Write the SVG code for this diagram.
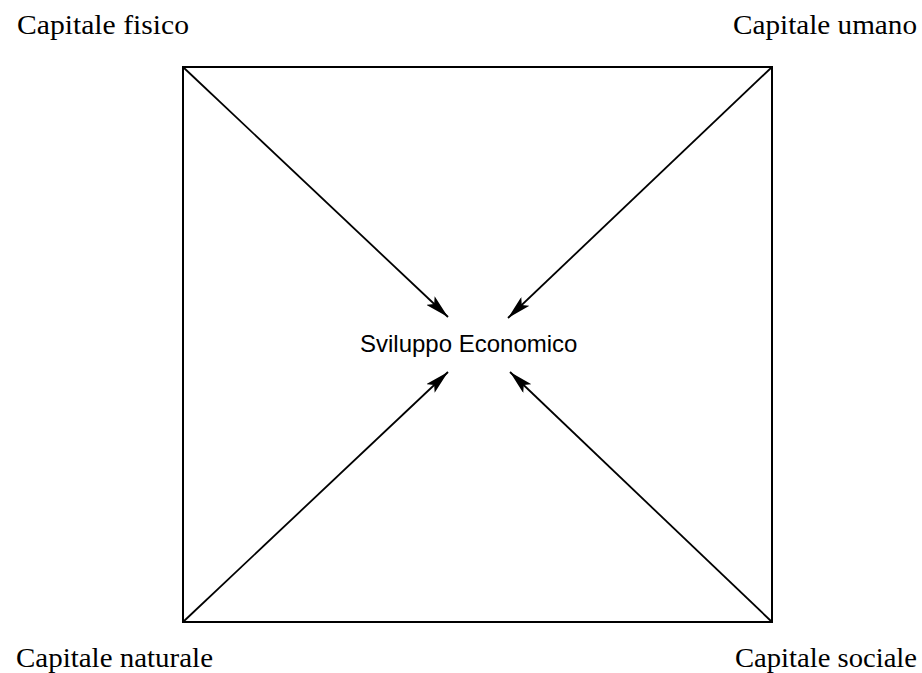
<svg xmlns="http://www.w3.org/2000/svg" width="922" height="673" viewBox="0 0 922 673">
<style>
.lbl{font-family:"Liberation Serif","Times New Roman",serif;font-size:27px;fill:#000}
.ctr{font-family:"Liberation Sans",Arial,sans-serif;font-size:24px;fill:#000}
.edge{stroke:#000;stroke-width:1.8;fill:none}
</style>
<defs>
<marker id="ah" viewBox="0 0 24 12" refX="24" refY="6" markerWidth="24" markerHeight="12" markerUnits="userSpaceOnUse" orient="auto">
<path d="M0,0 L24,6 L0,12 L5,6 Z" fill="#000"/>
</marker>
</defs>
<rect width="922" height="673" fill="#fff"/>
<g id="frame"><rect x="183" y="67" width="589" height="555" fill="none" stroke="#000" stroke-width="2"/></g>
<g id="n-fisico"><text class="lbl" x="17" y="34" textLength="172" lengthAdjust="spacingAndGlyphs">Capitale fisico</text></g>
<g id="n-umano"><text class="lbl" x="733" y="34" textLength="184" lengthAdjust="spacingAndGlyphs">Capitale umano</text></g>
<g id="n-naturale"><text class="lbl" x="16" y="667" textLength="197" lengthAdjust="spacingAndGlyphs">Capitale naturale</text></g>
<g id="n-sociale"><text class="lbl" x="735" y="667" textLength="182" lengthAdjust="spacingAndGlyphs">Capitale sociale</text></g>
<g id="n-centro"><text class="ctr" x="360" y="352">Sviluppo Economico</text></g>
<g id="connectors">
<line class="edge" x1="183" y1="67" x2="448" y2="317" marker-end="url(#ah)"/>
<line class="edge" x1="772" y1="67" x2="508" y2="318" marker-end="url(#ah)"/>
<line class="edge" x1="183" y1="622" x2="448" y2="372" marker-end="url(#ah)"/>
<line class="edge" x1="772" y1="622" x2="510" y2="372" marker-end="url(#ah)"/>
</g>
</svg>
